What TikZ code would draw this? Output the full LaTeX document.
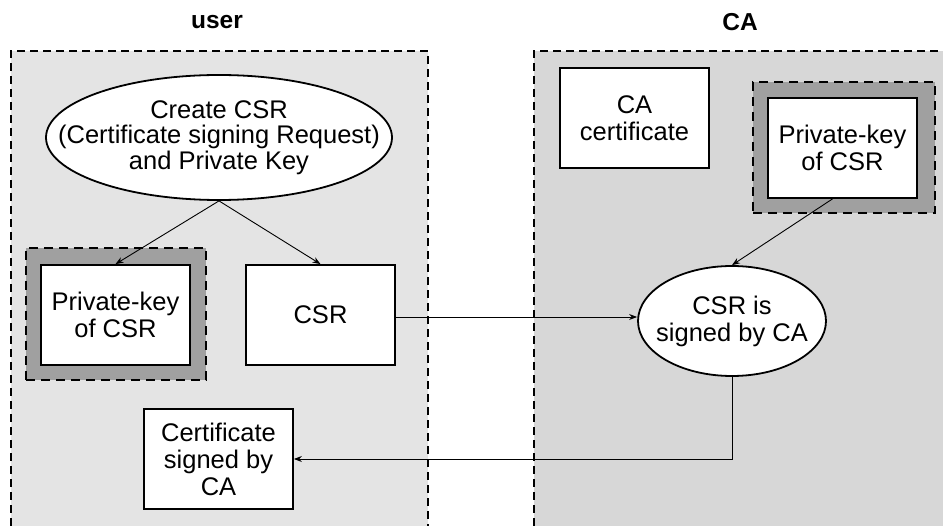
\documentclass[tikz,border=0pt]{standalone}
\usepackage{fontspec}
\setmainfont{Liberation Sans}
\usetikzlibrary{arrows.meta,shapes.geometric}
\definecolor{userbg}{HTML}{E4E4E4}
\definecolor{cabg}{HTML}{D7D7D7}
\definecolor{keybg}{HTML}{A0A0A0}
\tikzset{
  x=1pt,y=-1pt,
  txt/.style={font=\fontsize{25.5}{27}\selectfont,align=center},
  box/.style={txt,draw,fill=white,line width=1.8pt,minimum width=149pt,minimum height=100pt,inner sep=0pt},
  oval/.style={ellipse,draw,fill=white,line width=1.8pt,inner sep=0pt},
  keyframe/.style={draw,fill=keybg,line width=2pt,dash pattern=on 9pt off 6pt,inner sep=0pt},
  panelline/.style={line width=2pt,dash pattern=on 8pt off 5pt},
  conn/.style={line width=0.9pt,-{Stealth[length=8pt,width=6pt]}},
  title/.style={font=\fontsize{24.5}{27}\selectfont\bfseries}
}
\begin{document}
\begin{tikzpicture}
\useasboundingbox (0,0) rectangle (943,526);
% panels
\fill[userbg] (11,51) rectangle (428,526);
\fill[cabg] (534,51) rectangle (943,526);
\draw[panelline] (11,526) -- (11,51) -- (428,51) -- (428,526);
\draw[panelline] (534,526) -- (534,51) -- (943,51);
\node[title] (tu) at (217,22) {user};
\node[title] (tca) at (740,22) {CA};
% user side
\node[oval,minimum width=346pt,minimum height=125pt] (e1) at (219,137.5) {};
\node[txt,font=\fontsize{25.5}{25.5}\selectfont] (e1t) at (e1.center) {Create CSR\\(Certificate signing Request)\\and Private Key};
\node[keyframe,minimum width=180pt,minimum height=132pt] (k1) at (116,314) {};
\node[box] (pk1) at (115.5,315) {Private-key\\of CSR};
\node[box] (csr) at (320.5,315) {CSR};
\node[box] (cert) at (218.5,459) {Certificate\\signed by\\CA};
% CA side
\node[box] (cacert) at (634.5,118) {CA\\certificate};
\node[keyframe,minimum width=182pt,minimum height=131pt] (k2) at (844,147.5) {};
\node[box] (pk2) at (842.5,148) {Private-key\\of CSR};
\node[oval,minimum width=188pt,minimum height=110pt] (e2) at (732,321) {};
\node[txt] (e2t) at (e2.center) {CSR is\\signed by CA};
% connectors
\draw[conn] (e1.south) -- (pk1.north);
\draw[conn] (e1.south) -- (csr.north);
\draw[conn] ([yshift=-2pt]csr.east) -- ([yshift=-2pt]csr.east -| e2.west);
\draw[conn] ([xshift=-10pt]pk2.south) -- (e2.north);
\draw[conn] (e2.south) |- (cert.east);
\end{tikzpicture}
\end{document}
